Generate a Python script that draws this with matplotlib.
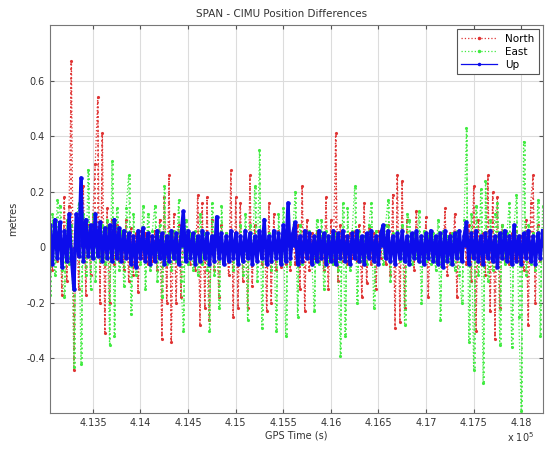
import numpy as np
import matplotlib
matplotlib.use("Agg")
import matplotlib.pyplot as plt

# samples every 25 s starting at 413050 s
t_start = 413050
t_step = 25

north = [
    0.06, -0.08, 0.10, -0.05, 0.08, -0.17, 0.18, -0.12, 0.15, 0.67,
    -0.44, 0.12, -0.15, 0.10, 0.22, -0.17, 0.08, -0.10, 0.12, 0.30,
    0.54, -0.20, 0.41, -0.31, 0.14, -0.20, 0.10, -0.06, 0.08, -0.05,
    0.06, -0.08, 0.10, -0.12, 0.07, -0.10, 0.05, -0.16, 0.06, -0.04,
    0.05, -0.06, 0.04, -0.05, 0.06, -0.08, 0.10, -0.33, 0.18, -0.20,
    0.26, -0.34, 0.12, -0.20, 0.08, -0.18, 0.06, -0.05, 0.04, -0.06,
    0.05, -0.08, 0.19, -0.28, 0.16, -0.22, 0.18, -0.26, 0.10, -0.08,
    0.06, -0.18, 0.08, -0.06, 0.05, -0.10, 0.28, -0.25, 0.18, -0.22,
    0.16, -0.12, 0.06, -0.22, 0.26, -0.14, 0.08, -0.05, 0.04, -0.06,
    0.08, -0.23, 0.16, -0.20, 0.12, -0.08, 0.06, -0.07, 0.08, -0.06,
    0.05, -0.08, 0.04, -0.06, 0.08, -0.15, 0.22, -0.23, 0.10, -0.08,
    0.05, -0.04, 0.06, -0.05, 0.04, -0.08, 0.18, -0.15, 0.10, -0.06,
    0.41, -0.12, 0.08, -0.05, 0.04, -0.06, 0.05, -0.04, 0.06, -0.05,
    0.08, -0.18, 0.16, -0.13, 0.07, -0.06, 0.05, -0.15, 0.06, -0.04,
    0.05, -0.06, 0.08, -0.10, 0.19, -0.29, 0.26, -0.27, 0.24, -0.22,
    0.10, -0.06, 0.05, -0.08, 0.13, -0.05, 0.04, -0.06, 0.11, -0.18,
    0.06, -0.05, 0.04, -0.06, 0.05, -0.04, 0.14, -0.10, 0.05, -0.06,
    0.12, -0.18, 0.06, -0.05, 0.04, -0.06, 0.08, -0.12, 0.22, -0.30,
    0.10, -0.06, 0.05, -0.10, 0.26, -0.23, 0.20, -0.33, 0.18, -0.22,
    0.08, -0.05, 0.04, -0.06, 0.05, -0.04, 0.06, -0.05, 0.04, -0.08,
    0.10, -0.28, 0.16, 0.26, -0.20, 0.08, -0.05, 0.04,
]

east = [
    -0.17, 0.12, -0.10, 0.17, 0.15, -0.08, -0.18, 0.10, -0.06, 0.08,
    -0.43, 0.10, 0.16, -0.42, 0.12, -0.10, 0.28, -0.15, 0.12, -0.12,
    0.06, -0.05, 0.08, -0.06, 0.10, -0.35, 0.31, -0.32, 0.14, -0.08,
    0.06, -0.14, 0.14, 0.26, -0.24, 0.12, -0.10, 0.05, -0.06, 0.15,
    -0.15, 0.12, -0.08, 0.06, 0.15, -0.12, 0.08, -0.18, 0.22, -0.06,
    0.05, -0.08, 0.06, -0.05, 0.17, -0.12, -0.30, 0.10, -0.06, 0.05,
    -0.08, 0.06, -0.10, 0.12, -0.06, 0.05, -0.08, -0.30, 0.16, -0.10,
    0.08, -0.22, 0.15, -0.06, 0.05, -0.04, 0.06, -0.08, 0.05, -0.06,
    0.08, -0.10, 0.12, -0.26, 0.08, -0.06, 0.22, -0.12, 0.35, -0.29,
    0.10, -0.06, 0.05, -0.08, 0.06, -0.30, 0.12, -0.06, 0.14, -0.32,
    0.08, -0.06, 0.05, 0.20, -0.25, 0.08, -0.06, 0.05, -0.04, 0.06,
    -0.05, -0.23, 0.10, -0.06, 0.10, -0.15, 0.06, -0.05, 0.04, -0.06,
    0.05, -0.08, -0.39, 0.16, -0.32, 0.14, -0.08, 0.06, 0.22, -0.20,
    0.06, -0.05, 0.04, -0.06, 0.08, 0.16, -0.22, 0.06, -0.05, 0.04,
    -0.06, 0.08, 0.17, -0.12, 0.05, -0.04, 0.06, -0.05, 0.08, -0.28,
    0.12, 0.10, -0.06, 0.05, -0.04, 0.13, -0.20, 0.06, -0.05, 0.04,
    -0.06, 0.05, -0.08, 0.10, -0.26, 0.06, -0.05, 0.04, -0.06, 0.05,
    -0.08, 0.06, -0.10, -0.20, 0.10, 0.43, -0.34, 0.12, -0.44, 0.15,
    -0.10, 0.21, -0.49, 0.24, -0.12, 0.10, -0.08, 0.12, 0.16, -0.35,
    0.08, -0.06, 0.05, 0.16, -0.36, 0.08, 0.19, -0.25, -0.59, 0.38,
    -0.10, 0.08, -0.06, 0.05, -0.08, 0.17, -0.32, 0.15,
]

up = [
    0.08, -0.06, 0.10, -0.04, 0.09, -0.07, 0.06, -0.05, 0.12, -0.04,
    -0.15, 0.12, -0.03, 0.25, -0.05, 0.10, -0.03, 0.08, -0.04, 0.12,
    -0.03, 0.09, -0.05, 0.07, -0.04, 0.08, -0.05, 0.10, -0.04, 0.07,
    -0.05, 0.06, -0.04, 0.05, -0.06, 0.04, -0.07, 0.06, -0.04, 0.07,
    -0.05, 0.05, -0.06, 0.04, -0.05, 0.06, -0.04, 0.05, -0.06, 0.04,
    -0.05, 0.06, -0.04, 0.05, -0.06, 0.04, 0.13, -0.05, 0.06, -0.04,
    0.05, -0.06, 0.04, -0.05, 0.06, -0.04, 0.05, -0.06, 0.04, -0.05,
    0.11, -0.04, 0.05, -0.06, 0.04, -0.05, 0.06, -0.04, 0.05, -0.06,
    0.04, -0.05, 0.06, -0.04, 0.05, -0.06, 0.04, -0.05, 0.06, -0.04,
    0.10, -0.06, 0.04, -0.05, 0.06, -0.04, 0.05, -0.06, 0.08, -0.05,
    0.16, -0.04, 0.05, 0.09, -0.06, 0.04, -0.05, 0.06, -0.04, 0.05,
    -0.06, 0.04, -0.05, 0.06, -0.04, 0.05, -0.06, 0.04, -0.05, 0.06,
    -0.06, 0.05, -0.04, 0.06, -0.05, 0.04, -0.06, 0.05, -0.04, 0.06,
    -0.05, 0.04, -0.06, 0.05, -0.04, 0.06, -0.05, 0.04, -0.06, 0.05,
    0.08, -0.04, 0.06, -0.05, 0.04, -0.06, 0.05, -0.04, 0.06, -0.05,
    0.04, -0.06, 0.05, -0.04, 0.06, -0.05, 0.04, -0.06, 0.05, -0.04,
    0.06, -0.05, 0.04, -0.06, 0.05, -0.07, 0.06, -0.05, 0.04, -0.06,
    0.05, -0.04, 0.06, -0.05, 0.04, 0.09, -0.06, 0.05, -0.04, 0.06,
    -0.05, 0.04, -0.06, 0.05, -0.04, 0.06, -0.05, 0.04, -0.07, 0.05,
    -0.04, 0.06, -0.05, 0.04, -0.06, 0.08, -0.05, 0.04, -0.06, 0.05,
    -0.04, 0.06, -0.05, 0.04, -0.06, 0.05, -0.04, 0.06,
]

xticks = [413500, 414000, 414500, 415000, 415500, 416000, 416500, 417000, 417500, 418000]
yticks = [-0.4, -0.2, 0, 0.2, 0.4, 0.6]

t = t_start + t_step * np.arange(len(north))

red = (0.88, 0.2, 0.2)
green = (0.25, 0.92, 0.25)
blue = (0.05, 0.05, 0.92)

fig = plt.figure(figsize=(5.48, 4.5), dpi=100)
ax = fig.add_axes([0.091, 0.082, 0.9, 0.862])

# each sample drawn as a dotted stroke from the zero line, plus the trace itself
ax.vlines(t, 0, north, colors=[red], linestyles=':', lw=1.3)
ax.plot(t, north, color=red, ls=':', lw=0.9, marker='.', ms=2.5, label='North')
ax.vlines(t + 10, 0, east, colors=[green], linestyles=':', lw=1.3)
ax.plot(t, east, color=green, ls=':', lw=0.9, marker='.', ms=2.5, label='East')
ax.vlines(t, 0, up, colors=[blue], lw=2.0)
ax.plot(t, up, color=blue, ls='-', lw=2.4, marker='.', ms=4.5, label='Up')

ax.set_xlim(t_start - 2, t[-1] + 5)
ax.set_ylim(-0.597, 0.8)
ax.set_xticks(xticks)
ax.set_xticklabels(['%g' % (v / 1e5) for v in xticks])
ax.set_yticks(yticks)
ax.set_yticklabels(['%g' % v for v in yticks])
ax.grid(True, color='#dcdcdc', lw=0.8)
ax.set_axisbelow(True)
ax.tick_params(direction='in', top=True, right=True, labelsize=7, length=3, color='#555555', labelcolor='#333333')
for s in ax.spines.values():
    s.set_color('#777777')

ax.set_title('SPAN - CIMU Position Differences', fontsize=7.5, color='#333333', pad=6, x=0.47)
ax.set_xlabel('GPS Time (s)', fontsize=7, color='#333333', labelpad=2)
ax.set_ylabel('metres', fontsize=7, color='#333333', labelpad=6)
fig.text(0.925, 0.018, r'x 10$^5$', fontsize=7, color='#333333')

leg = ax.legend(loc='upper right', fontsize=7.5, handlelength=3.5, borderaxespad=0.4,
                fancybox=False, framealpha=1, edgecolor='#555555', labelspacing=0.3)
leg.get_frame().set_linewidth(0.8)
for h in leg.get_lines():
    h.set_linewidth(0.9)
    h.set_markersize(3)

fig.savefig('out.png', dpi=100)
